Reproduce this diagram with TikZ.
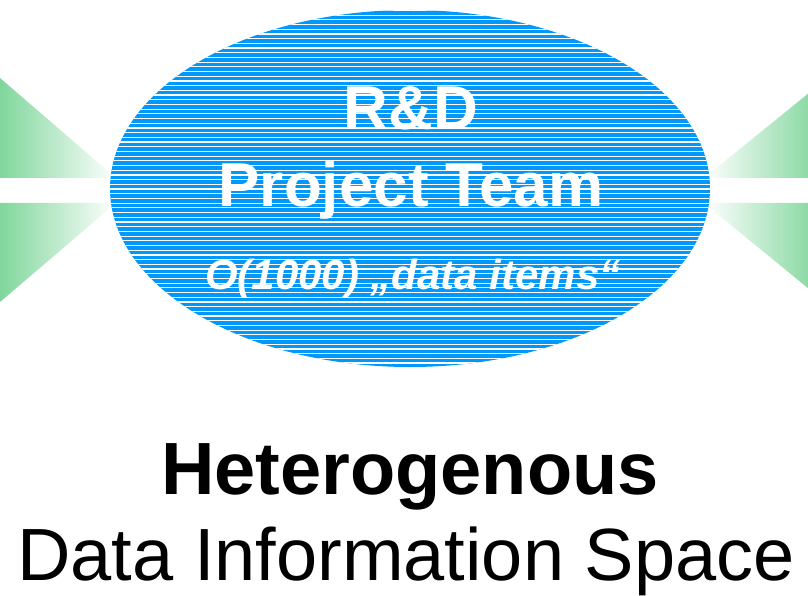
\documentclass[tikz,border=0pt]{standalone}
\usepackage{fontspec}
\setmainfont{Liberation Sans}
\usetikzlibrary{shapes.geometric}

\definecolor{teamblue}{RGB}{0,152,250}
\definecolor{fadegreen}{RGB}{128,214,156}

\begin{document}
\begin{tikzpicture}[x=1pt,y=-1pt,
    fadeleft/.style={left color=fadegreen,right color=white,draw=none},
    faderight/.style={left color=white,right color=fadegreen,draw=none},
    teamtext/.style={anchor=base,inner sep=0pt,text=white,font=\bfseries\fontsize{62}{62}\selectfont},
    spacetext/.style={anchor=base,inner sep=0pt,font=\fontsize{74}{74}\selectfont}]
    \useasboundingbox (0,0) rectangle (808,596);
    \clip (0,0) rectangle (808,596);
    % green wedges
    \path [fadeleft] (0,78) -- (116,178) -- (0,178) -- cycle;
    \path [fadeleft] (0,302) -- (116,203) -- (0,203) -- cycle;
    \path [faderight] (820,84) -- (704,178) -- (820,178) -- cycle;
    \path [faderight] (820,298) -- (704,203) -- (820,203) -- cycle;
    % the team
    \path (410,188.5) node [ellipse,fill=teamblue,minimum width=600pt,minimum height=357pt,inner sep=0pt] (team) {};
    \begin{scope}
        \clip (410,188.5) ellipse [x radius=300,y radius=178.5];
        \foreach \y in {10.5,15.2,...,370}
            \draw [white,line width=1.2pt] (100,\y) -- (720,\y);
    \end{scope}
    \path (411,130) node [teamtext] (rd) {R\&D};
    \path (411,207) node [teamtext] (project) {Project Team};
    \path (413,289) node [teamtext,font=\bfseries\itshape\fontsize{42}{42}\selectfont] (items) {O(1000) „data items“};
    % below
    \path (410,494) node [spacetext,font=\bfseries\fontsize{74}{74}\selectfont] (hetero) {Heterogenous};
    \path (406,580) node [spacetext] (space) {Data Information Space};
\end{tikzpicture}
\end{document}
